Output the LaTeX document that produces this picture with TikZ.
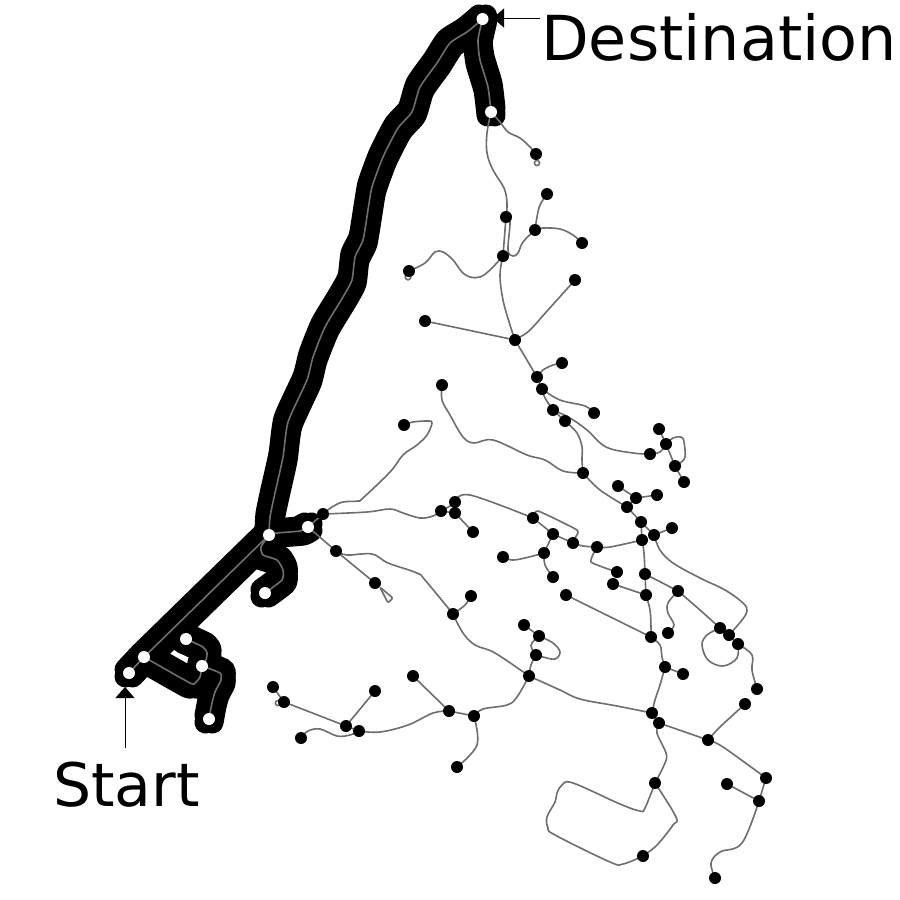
\documentclass[tikz,border=0pt]{standalone}
\usepackage{fontspec}
\setmainfont{DejaVu Sans}
\usetikzlibrary{arrows.meta}
\pgfdeclarelayer{edges}
\pgfsetlayers{edges,main}
\definecolor{edgegray}{HTML}{6E6E6E}
\tikzset{
  bn/.style={circle,fill=black,inner sep=0pt,minimum size=12pt},
  wn/.style={circle,fill=white,inner sep=0pt,minimum size=12pt},
  edge/.style={draw=edgegray,line width=1.6pt,line cap=round,line join=round},
  curve/.style={smooth,tension=0.6},
  rcurve/.style={smooth,tension=0.35},
  heavy/.style={draw=black,line width=22pt,line cap=round,line join=round},
  pointer/.style={draw=black,line width=1pt,-{Triangle[length=11pt,width=19pt]}},
  bigtext/.style={anchor=base west,inner sep=0pt},
  destfont/.style={font=\fontsize{62pt}{62pt}\selectfont},
  startfont/.style={font=\fontsize{60pt}{60pt}\selectfont}
}
\def\routes{
  (S.center) -- (A.center) -- (J.center)
  plot[rcurve] coordinates {(J) (261,547) (263,555) (277,560) (283,570) (282,580) (265,593)}
  plot[rcurve] coordinates {(A) (190,683) (195,683) (200,677) (C)}
  plot[rcurve] coordinates {(B) (203,647) (207,653) (206,660) (C)}
  plot[rcurve] coordinates {(C) (220,673) (221,680) (215,692) (212,703) (D)}
  plot[rcurve] coordinates {(J) (277,533) (300,531) (F)}
  plot[rcurve] coordinates {(J) (270,517) (275,493) (283,457) (288,422) (307,380) (313,357) (325,327) (343,297) (352,280) (355,257) (363,240) (368,210) (372,187) (383,157) (398,128) (412,112) (420,87) (437,63) (450,43) (467,32) (478,23) (Z)}
  plot[rcurve] coordinates {(G) (488,87) (480,60) (478,40) (Z)}
}
\begin{document}
\begin{tikzpicture}[x=1pt,y=-1pt]
\useasboundingbox (0,0) rectangle (900,900);
% nodes on the route
\node[wn] (S) at (129,673) {};
\node[wn] (A) at (144,657) {};
\node[wn] (B) at (186,639) {};
\node[wn] (C) at (202,666) {};
\node[wn] (D) at (209,719) {};
\node[wn] (J) at (269,535) {};
\node[wn] (E) at (265,593) {};
\node[wn] (F) at (308,527) {};
\node[wn] (Z) at (482.5,19) {};
\node[wn] (G) at (491,112) {};
% other nodes
\foreach \n/\x/\y in {
n1/536/154,n2/547/194,n3/535/230,n4/582/243,n5/506/217,n6/503/256,n7/409/271,n8/575/280,
n9/515/340,n10/425/321,n11/537/377,n12/562/363,n13/542/389,n14/594/413,n15/553/410,n16/565/421,
n17/583/473,n18/650/454,n19/666/444,n20/659/429,n21/675/466,n22/684/482,n23/442/385,n24/404/425,
n25/323/514,n26/441/511,n27/455/502,n28/455/513,n29/473/532,n30/533/518,n31/553/534,n32/573/543,
n33/597/547,n34/642/540,n35/544/553,n36/503/557,n37/553/577,n38/617/572,n39/613/584,n40/646/595,
n41/645/574,n42/641/522,n43/627/507,n44/636/498,n45/618/486,n46/657/495,n47/654/535,n48/672/528,
n49/678/591,n50/668/633,n51/651/637,n52/566/595,n53/665/667,n54/683/674,n55/652/713,n56/659/723,
n57/708/740,n58/745/704,n59/766/778,n60/759/801,n61/727/784,n62/715/878,n63/655/783,n64/643/856,
n65/529/676,n66/536/655,n67/539/636,n68/524/625,n69/453/614,n70/471/596,n71/336/551,n72/375/583,
n73/273/687,n74/284/702,n75/346/726,n76/375/691,n77/359/731,n78/301/738,n79/449/711,n80/413/676,
n81/474/716,n82/457/767,na/720/628,nb/729/635,nc/738/644,nd/757/689}
  \node[bn] (\n) at (\x,\y) {};
% labels
\node[bigtext,destfont] (destlabel) at (541,60) {Destination};
\node[bigtext,startfont] (startlabel) at (53,806) {Start};
\coordinate (destfrom) at (540,18);
\coordinate (destto) at (493,18);
\coordinate (startfrom) at (125,748);
\coordinate (startto) at (125,687);
\draw[pointer] (destfrom) -- (destto);
\draw[pointer] (startfrom) -- (startto);
\begin{pgfonlayer}{edges}
\fill[white] (0,0) rectangle (900,900);
\foreach \dx/\dy in {-3.5/-3.5,-3.5/3.5,3.5/-3.5,3.5/3.5,0/0} {
  \begin{scope}[transform canvas={shift={(\dx,\dy)}}]
    \draw[heavy] \routes;
  \end{scope}
}
\draw[edge] \routes;
% straight connectors
\draw[edge] (n5)--(n6) (n9)--(n10) (n9)--(n11) (n11)--(n13) (n15)--(n16) (n19)--(n20) (n21)--(n22)
  (n19)--(n21) (F)--(n25) (n28)--(n29) (n27)--(n28) (n26)--(n28) (n30)--(n31) (n31)--(n32) (n31)--(n35)
  (n39)--(n40) (n40)--(n41) (n34)--(n42) (n42)--(n43) (n43)--(n44) (n44)--(n45) (n44)--(n46)
  (n47)--(n48) (n42)--(n47) (n41)--(n49) (n52)--(n51) (n53)--(n54) (n55)--(n56) (n56)--(n57)
  (n59)--(n60) (n60)--(n61) (n67)--(n68) (F)--(n71) (n71)--(n72) (n73)--(n74) (n74)--(n75) (n75)--(n76)
  (n75)--(n77) (n79)--(n80) (n79)--(n81);
% curved connectors
\draw[edge] plot[curve] coordinates {(G) (500,122) (508,132) (520,138) (530,147) (n1)};
\draw[edge] plot[curve] coordinates {(G) (487,133) (487,153) (493,170) (504,188) (507,203) (n5)};
\draw[edge] plot[curve] coordinates {(n5) (510,222) (508,250) (513,256) (518,253) (523,242) (n3)};
\draw[edge] plot[curve] coordinates {(n3) (537,217) (540,205) (n2)};
\draw[edge] plot[curve] coordinates {(n3) (543,228) (560,229) (573,235) (n4)};
\draw[edge] plot[curve] coordinates {(n6) (490,270) (480,277) (470,277) (462,272) (453,260) (443,252) (435,252) (425,263) (n7)};
\draw[edge] plot[curve] coordinates {(n6) (500,275) (503,300) (510,325) (n9)};
\draw[edge] plot[curve] coordinates {(n8) (548,310) (530,330) (520,337) (n9)};
\draw[edge] plot[curve] coordinates {(n11) (543,370) (553,365) (n12)};
\draw[edge] plot[curve] coordinates {(n13) (560,400) (585,406) (n14)};
\draw[edge] plot[curve] coordinates {(n13) (545,398) (n15)};
\draw[edge] plot[curve] coordinates {(n16) (577,433) (582,447) (582,460) (n17)};
\draw[edge] plot[curve] coordinates {(n15) (570,418) (587,430) (606,447) (633,453) (n18)};
\draw[edge] plot[curve] coordinates {(n18) (660,452) (n19)};
\draw[edge] plot[curve] coordinates {(n19) (673,438) (681,437) (684,442) (685,457) (680,463) (n21)};
\draw[edge] plot[curve] coordinates {(n23) (442,400) (450,415) (463,437) (474,443) (493,440) (527,455) (545,460) (563,471) (n17)};
\draw[edge] plot[curve] coordinates {(n24) (413,422) (428,421) (432,423) (427,435) (417,445) (403,455) (390,472) (363,498) (358,501) (343,502) (332,507) (n25)};
\draw[edge] plot[curve] coordinates {(n25) (367,512) (390,509) (403,513) (420,518) (433,516) (n26)};
\draw[edge] plot[curve] coordinates {(n27) (470,495) (n30)};
\draw[edge] plot[curve] coordinates {(n26) (450,506) (n27)};
\draw[edge] plot[curve,tension=0.3] coordinates {(n30) (538,511) (577,530) (575,538) (n32)};
\draw[edge] plot[curve] coordinates {(n32) (583,546) (n33)};
\draw[edge] plot[curve] coordinates {(n33) (610,547) (n34)};
\draw[edge] plot[curve] coordinates {(n35) (525,558) (512,560) (n36)};
\draw[edge] plot[curve] coordinates {(n35) (545,565) (n37)};
\draw[edge] plot[curve,tension=0.3] coordinates {(n33) (591,562) (n38)};
\draw[edge] plot[curve] coordinates {(n34) (644,553) (n41)};
\draw[edge] plot[curve] coordinates {(n17) (600,490) (n43)};
\draw[edge] plot[curve] coordinates {(n47) (660,550) (673,563) (700,578) (725,590) (743,603) (747,611) (742,620) (nb)};
\draw[edge] plot[curve] coordinates {(n49) (700,610) (na)};
\draw[edge] (na)--(nb)--(nc);
\draw[edge] plot[curve] coordinates {(na) (707,635) (702,645) (708,660) (723,666) (737,658) (nc)};
\draw[edge] plot[curve] coordinates {(nc) (752,655) (752,670) (nd)};
\draw[edge] plot[curve] coordinates {(n49) (668,603) (668,613) (674,625) (n50)};
\draw[edge] plot[curve] coordinates {(n40) (650,610) (651,627) (n51)};
\draw[edge] plot[curve] coordinates {(n51) (660,645) (662,657) (n53)};
\draw[edge] plot[curve] coordinates {(n53) (660,685) (655,700) (n55)};
\draw[edge] plot[curve] coordinates {(n57) (720,727) (n58)};
\draw[edge] plot[curve] coordinates {(n57) (723,747) (n59)};
\draw[edge] plot[curve] coordinates {(n60) (742,843) (720,852) (711,863) (n62)};
\draw[edge] plot[curve] coordinates {(n56) (657,733) (666,753) (665,763) (n63)};
\draw[edge] plot[curve] coordinates {(n63) (676,817) (673,825) (657,845) (n64)};
\draw[edge] plot[curve] coordinates {(n63) (645,808) (640,811) (620,804) (573,783) (562,785) (557,793) (555,802) (547,817) (548,828) (555,835) (610,862) (623,864) (n64)};
\draw[edge] plot[curve] coordinates {(n55) (617,706) (580,699) (560,690) (n65)};
\draw[edge] plot[curve] coordinates {(n65) (531,665) (n66)};
\draw[edge] plot[curve] coordinates {(n66) (531,645) (n67)};
\draw[edge] plot[curve] coordinates {(n67) (553,643) (560,652) (555,659) (543,657) (n66)};
\draw[edge] plot[curve] coordinates {(n69) (465,605) (n70)};
\draw[edge] plot[curve] coordinates {(n71) (347,555) (372,554) (388,563) (417,573) (425,580) (n69)};
\draw[edge] plot[curve] coordinates {(n69) (463,633) (475,645) (495,653) (n65)};
\draw[edge] plot[curve] coordinates {(n78) (308,731) (320,729) (337,736) (350,735) (n77)};
\draw[edge] plot[curve] coordinates {(n77) (380,732) (408,725) (433,713) (n79)};
\draw[edge] plot[curve] coordinates {(n81) (477,745) (n82)};
\draw[edge] plot[curve] coordinates {(n81) (483,709) (507,705) (517,697) (n65)};
% small loops and the thin wedge
\draw[edge] (n1)+(1,9) circle (2.6);
\draw[edge] (n7)+(-1,6) circle (2.8);
\draw[edge] (n74)+(-6,1) circle (2.6);
\draw[edge,fill=gray!10,rounded corners=2pt] (n72) -- (393,598) -- (388,603) -- cycle;
\end{pgfonlayer}
\end{tikzpicture}
\end{document}
